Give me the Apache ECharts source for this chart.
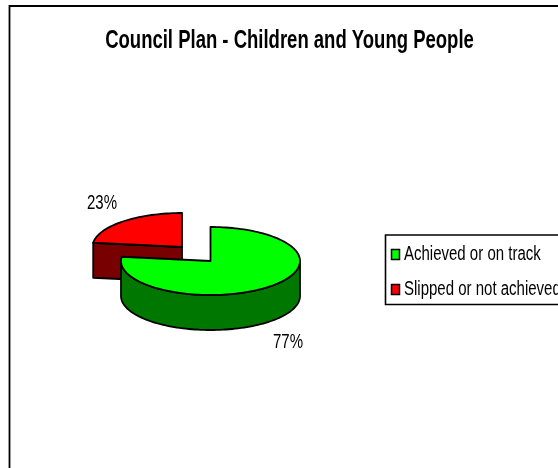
<!DOCTYPE html>
<html>
<head>
<meta charset="utf-8">
<style>html,body{margin:0;padding:0;background:#fff}#chart{width:558px;height:468px}</style>
<script src="https://cdn.jsdelivr.net/npm/echarts@6/dist/echarts.min.js"></script>
</head>
<body>
<div id="chart"></div>
<script>
const chartTitle = 'Council Plan - Children and Young People';
const categories = ['Achieved or on track', 'Slipped or not achieved'];
const shares = [77, 23];

const fontFamily = '"Liberation Sans", Arial, sans-serif';
const faceColors = ['#00ff00', '#ff0000'];
const wallColors = ['#007800', '#780000'];

// Tilted pie projection: an ellipse per slice, with the wall dropped below it.
const RX = 89.5, RY = 34, DEPTH = 35;
const centres = [[210.5, 261], [182, 247]];
const labelAnchors = [[288, 342], [102, 203]];

const total = shares.reduce((a, b) => a + b, 0);
const startAngle = i => shares.slice(0, i).reduce((a, b) => a + b, 0) / total * 360;

const rimPoint = (c, deg, drop) => {
  const r = deg * Math.PI / 180;
  return [c[0] + RX * Math.sin(r), c[1] - RY * Math.cos(r) + (drop || 0)];
};
const arc = (c, from, to, drop) => {
  const pts = [];
  const steps = Math.max(2, Math.ceil(Math.abs(to - from) / 2));
  for (let k = 0; k <= steps; k++) pts.push(rimPoint(c, from + (to - from) * k / steps, drop));
  return pts;
};

// Horizontally squeezed text, for a condensed look.
const condensedText = (text, x, y, size, squeeze, weight, align) => ({
  type: 'text', x, y, scaleX: squeeze, silent: true,
  style: {
    x: 0, y: 0, text, fill: '#000',
    font: (weight ? weight + ' ' : '') + size + 'px ' + fontFamily,
    align, verticalAlign: 'middle'
  }
});

function renderSlice(index) {
  return function (params, api) {
    const value = api.value(0);
    const from = startAngle(index);
    const to = from + value / total * 360;
    const c = centres[index];
    const stroke = { stroke: '#000', lineWidth: 1.8, lineJoin: 'round' };
    const children = [];

    // Outer wall: only the part of the rim facing the viewer (90deg to 270deg).
    const wallFrom = Math.max(from, 90), wallTo = Math.min(to, 270);
    if (wallTo > wallFrom) {
      children.push({
        type: 'polygon',
        shape: { points: arc(c, wallFrom, wallTo, 0).concat(arc(c, wallTo, wallFrom, DEPTH)) },
        style: Object.assign({ fill: wallColors[index] }, stroke)
      });
    }
    // Cut face, visible when the slice's leading radius faces forward.
    if (from > 270 && from < 360) {
      const p = rimPoint(c, from);
      children.push({
        type: 'polygon',
        shape: { points: [p, c, [c[0], c[1] + DEPTH], [p[0], p[1] + DEPTH]] },
        style: Object.assign({ fill: wallColors[index] }, stroke)
      });
    }
    // Top face of the slice.
    children.push({
      type: 'polygon',
      shape: { points: [c].concat(arc(c, from, to, 0)) },
      style: Object.assign({ fill: faceColors[index] }, stroke)
    });
    // Percentage label.
    children.push(condensedText(value + '%', labelAnchors[index][0], labelAnchors[index][1], 20, 0.75, '', 'center'));
    return { type: 'group', children };
  };
}

// Legend box with one swatch and one caption per category.
const legendRows = [254, 289];
const legendGraphics = [{
  type: 'rect', silent: true,
  shape: { x: 385.5, y: 235, width: 240, height: 69.5 },
  style: { fill: '#fff', stroke: '#000', lineWidth: 1.6 }
}];
categories.forEach((name, i) => {
  legendGraphics.push({
    type: 'rect', silent: true,
    shape: { x: 391.5, y: legendRows[i] - 4.5, width: 8, height: 10 },
    style: { fill: faceColors[i], stroke: '#000', lineWidth: 1.5 }
  });
  legendGraphics.push(condensedText(name, 404, legendRows[i], 20, 0.75, '', 'left'));
});

const chart = echarts.init(document.getElementById('chart'), null, { renderer: 'canvas' });
chart.setOption({
  animation: false,
  backgroundColor: '#fff',
  graphic: [
    {
      type: 'rect', silent: true, z: -1,
      shape: { x: 9.5, y: 6, width: 620, height: 520 },
      style: { fill: 'none', stroke: '#000', lineWidth: 1.8 }
    },
    condensedText(chartTitle, 289.5, 41.5, 25, 0.74, 'bold', 'center')
  ].concat(legendGraphics),
  // Red drawn first so the green slice overlaps it.
  series: [1, 0].map(i => ({
    type: 'custom',
    name: categories[i],
    coordinateSystem: 'none',
    itemStyle: { color: faceColors[i] },
    renderItem: renderSlice(i),
    data: [[shares[i]]],
    silent: true
  }))
});
</script>
</body>
</html>
